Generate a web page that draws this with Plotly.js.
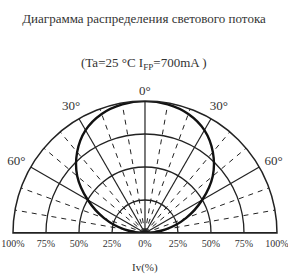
<!DOCTYPE html>
<html>
<head>
<meta charset="utf-8">
<script src="https://cdn.plot.ly/plotly-3.0.1.min.js"></script>
<style>html,body{margin:0;padding:0;background:#fff;}#chart{width:288px;height:278px;}</style>
</head>
<body>
<div id="chart"></div>
<script>
// Radiation pattern data (angle in degrees from axis, relative intensity %)
const angles = [-90, -80, -70, -60, -50, -40, -30, -20, -10, 0, 10, 20, 30, 40, 50, 60, 70, 80, 90];
const intensity = [0, 16, 33, 50, 67, 80, 90, 96, 99, 100, 99, 96, 90, 80, 67, 50, 33, 16, 0];

// Grid definitions
const solidSpokes = [-60, -30, 0, 30, 60];
const dashedSpokes = [-80, -70, -50, -40, -20, -10, 10, 20, 40, 50, 70, 80];
const baseSpokes = [-90, 90];
const ringValues = [25, 50, 75, 100];
const ringLabels = ['25%', '50%', '75%', '100%'];
const rightAngleLabels = ['0°', '30°', '60°'];
const leftAngleLabels = ['30°', '60°'];

const lineColor = '#222';
const textColor = '#333';
const serif = 'Liberation Serif, Times New Roman, serif';
const clear = 'rgba(0,0,0,0)';

const traces = [];
function spoke(theta, dash, width) {
  traces.push({
    type: 'scatterpolar', mode: 'lines', r: [0, 100], theta: [theta, theta],
    line: {color: lineColor, width: width, dash: dash}, hoverinfo: 'skip', showlegend: false
  });
}
dashedSpokes.forEach(a => spoke(a, '5px,5px', 1));
solidSpokes.forEach(a => spoke(a, 'solid', 1.2));
baseSpokes.forEach(a => spoke(a, 'solid', 2));

// Pattern curve
traces.push({
  type: 'scatterpolar', mode: 'lines', r: intensity, theta: angles,
  line: {color: '#111', width: 2.4, shape: 'spline', smoothing: 1},
  hoverinfo: 'skip', showlegend: false
});

// Bottom tick labels
traces.push({
  type: 'scatterpolar', mode: 'markers+text', cliponaxis: false,
  r: [0].concat(ringValues), theta: [90, 90, 90, 90, 90],
  text: ['0%'].concat(ringLabels), textposition: 'bottom center',
  marker: {size: 9, color: clear},
  textfont: {family: serif, size: 10, color: textColor}, hoverinfo: 'skip', showlegend: false
});
traces.push({
  type: 'scatterpolar', mode: 'markers+text', cliponaxis: false,
  r: ringValues, theta: [-90, -90, -90, -90],
  text: ringLabels, textposition: 'bottom center',
  marker: {size: 9, color: clear},
  textfont: {family: serif, size: 10, color: textColor}, hoverinfo: 'skip', showlegend: false
});
// Angle labels
traces.push({
  type: 'scatterpolar', mode: 'markers+text', cliponaxis: false,
  r: [100, 100, 100], theta: [0, 28, 62],
  text: rightAngleLabels, textposition: ['top center', 'top right', 'top right'],
  marker: {size: 3, color: clear},
  textfont: {family: serif, size: 13, color: textColor}, hoverinfo: 'skip', showlegend: false
});
traces.push({
  type: 'scatterpolar', mode: 'markers+text', cliponaxis: false,
  r: [100, 100], theta: [-28, -62],
  text: leftAngleLabels, textposition: ['top left', 'top left'],
  marker: {size: 3, color: clear},
  textfont: {family: serif, size: 13, color: textColor}, hoverinfo: 'skip', showlegend: false
});

const layout = {
  width: 288, height: 278,
  margin: {l: 0, r: 0, t: 0, b: 0},
  paper_bgcolor: '#fff', plot_bgcolor: '#fff',
  showlegend: false,
  title: {text: 'Диаграмма распределения светового потока', x: 0.5, xanchor: 'center',
          y: 0.935, yanchor: 'middle', font: {family: serif, size: 13, color: textColor}},
  polar: {
    domain: {x: [0.0451, 0.9618], y: [0.1619, 0.6367]},
    sector: [0, 180],
    bgcolor: '#fff',
    radialaxis: {range: [0, 100], tickvals: ringValues, showticklabels: false, ticks: '',
                 showline: false, showgrid: true, gridcolor: lineColor, gridwidth: 1.3},
    angularaxis: {rotation: 90, direction: 'clockwise', showgrid: false, showticklabels: false,
                  ticks: '', showline: true, linecolor: lineColor, linewidth: 1.5}
  },
  annotations: [
    {text: '(Ta=25 °C I<sub>FP</sub>=700mA )', xref: 'paper', yref: 'paper', x: 0.5, y: 0.773,
     xanchor: 'center', yanchor: 'middle', showarrow: false,
     font: {family: serif, size: 13, color: textColor}},
    {text: 'Iv(%)', xref: 'paper', yref: 'paper', x: 0.505, y: 0.036,
     xanchor: 'center', yanchor: 'middle', showarrow: false,
     font: {family: serif, size: 11, color: textColor}}
  ]
};

Plotly.newPlot('chart', traces, layout, {displayModeBar: false, staticPlot: true});
</script>
</body>
</html>
